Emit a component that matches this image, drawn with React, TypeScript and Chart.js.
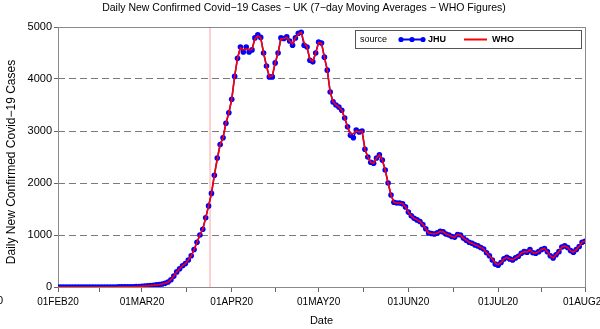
import React, { useEffect, useRef } from "react";
import { Chart, registerables } from "chart.js";
Chart.register(...registerables);

const chartTitle = "Daily New Confirmed Covid\u221219 Cases \u2212 UK (7\u2212day Moving Averages \u2212 WHO Figures)";
const yAxisTitle = "Daily New Confirmed Covid\u221219 Cases";
const xAxisTitle = "Date";
const tickDays = [0, 29, 60, 90, 121, 152, 182];
const tickLabels = ["01FEB20", "01MAR20", "01APR20", "01MAY20", "01JUN20", "01JUL20", "01AUG20"];
const minorTickDays = [14.5, 44.5, 75, 105.5, 136.5, 167];
const yTicks = [0, 1000, 2000, 3000, 4000, 5000];
const lockdownDay = 52.5;
const legendTitle = "source";
const seriesNames = ["JHU", "WHO"];

// day 0 = 01FEB20
const jhu = [
  0, 0, 0, 0, 0, 0, 1, 1, 1, 1,
  1, 1, 1, 1, 1, 1, 1, 1, 1, 1,
  1, 2, 2, 3, 4, 5, 6, 8, 10,
  14, 18, 22, 28, 34, 40, 48, 58, 70,
  95, 140, 210, 290, 350, 410, 450, 520, 600, 720,
  860, 1000, 1110, 1330, 1560, 1800, 2150, 2480, 2740, 2870,
  3150, 3350, 3610, 4050, 4400, 4615, 4520, 4615, 4520, 4560,
  4790, 4850, 4800, 4500, 4250, 4040, 4040, 4310, 4500, 4790,
  4780, 4810, 4730, 4650, 4790, 4880, 4900, 4650, 4615, 4360,
  4330, 4500, 4710, 4690, 4420, 4170, 3750, 3560, 3500, 3460,
  3400, 3250, 3080, 2920, 2870, 3020, 2980, 3000, 2650, 2500,
  2400, 2380, 2480, 2540, 2440, 2250, 2000, 1770, 1630, 1615,
  1615, 1600, 1540, 1440, 1370, 1320, 1290, 1260, 1200, 1120,
  1040, 1030, 1020, 1040, 1070, 1060, 1020, 1000, 970, 960,
  1010, 1000, 940, 900, 860, 840, 810, 790, 760, 730,
  660, 600, 520, 440, 420, 470, 540, 570, 540, 520,
  560, 590, 650, 680, 670, 720, 660, 650, 680, 720,
  740, 680, 600, 560, 620, 680, 770, 790, 760, 700,
  670, 720, 780, 860, 880,
];

const who = [
  0, 0, 0, 0, 0, 0, 1, 1, 1, 1,
  1, 1, 1, 1, 1, 1, 1, 1, 1, 1,
  1, 2, 2, 3, 4, 5, 6, 8, 10,
  14, 18, 22, 28, 34, 40, 48, 58, 70,
  95, 140, 210, 290, 350, 410, 450, 520, 600, 720,
  860, 1000, 1110, 1330, 1560, 1800, 2150, 2450, 2740, 2870,
  3150, 3350, 3610, 4050, 4400, 4600, 4560, 4580, 4560, 4570,
  4770, 4830, 4790, 4500, 4250, 4040, 4060, 4310, 4500, 4770,
  4780, 4800, 4730, 4680, 4790, 4860, 4900, 4700, 4615, 4380,
  4340, 4500, 4700, 4690, 4420, 4170, 3750, 3560, 3500, 3460,
  3400, 3250, 3080, 2940, 2950, 3000, 2980, 3000, 2650, 2500,
  2400, 2380, 2480, 2540, 2440, 2250, 2000, 1770, 1630, 1615,
  1615, 1600, 1540, 1440, 1370, 1320, 1290, 1260, 1200, 1120,
  1040, 1030, 1020, 1040, 1070, 1060, 1020, 1000, 970, 960,
  1010, 1000, 940, 900, 860, 840, 810, 790, 760, 730,
  660, 600, 540, 460, 430, 470, 540, 570, 540, 520,
  560, 590, 650, 680, 670, 720, 660, 650, 680, 720,
  740, 680, 600, 560, 620, 680, 770, 790, 760, 700,
  670, 720, 780, 860, 880,
];

const FONT = "'Liberation Sans', Arial, sans-serif";
const BLUE = "#0000ff";
const RED = "#ff0000";

const decorPlugin = {
  id: "decor",
  beforeDatasetsDraw(chart: any) {
    const { ctx, chartArea: a } = chart;
    ctx.save();
    ctx.strokeStyle = "#8a8a8a";
    ctx.lineWidth = 1;
    ctx.strokeRect(Math.round(a.left) + 0.5, Math.round(a.top) + 0.5, Math.round(a.right - a.left), Math.round(a.bottom - a.top));
    ctx.restore();
  },
  afterDraw(chart: any) {
    const { ctx, chartArea: a } = chart;
    ctx.save();
    ctx.fillStyle = "#000";
    ctx.textBaseline = "middle";
    // chart title
    ctx.font = `10.5px ${FONT}`;
    ctx.textAlign = "center";
    ctx.fillText(chartTitle, 304, 8);
    // x title
    ctx.font = `11px ${FONT}`;
    ctx.fillText(xAxisTitle, (a.left + a.right) / 2, 321);
    // y title
    ctx.save();
    ctx.translate(12, 162);
    ctx.rotate(-Math.PI / 2);
    ctx.font = `12px ${FONT}`;
    ctx.fillText(yAxisTitle, 0, 0);
    ctx.restore();
    // stray clipped label at left edge
    ctx.font = `11px ${FONT}`;
    ctx.textAlign = "right";
    ctx.fillText("0", 3, 301);

    // legend
    const lx = 355.5, ly = 30.5, lw = 226, lh = 18;
    ctx.fillStyle = "#fff";
    ctx.fillRect(lx, ly, lw, lh);
    ctx.strokeStyle = "#555";
    ctx.lineWidth = 1;
    ctx.strokeRect(lx, ly, lw, lh);
    const cy = ly + lh / 2;
    ctx.fillStyle = "#000";
    ctx.textAlign = "left";
    ctx.font = `9px ${FONT}`;
    ctx.fillText(legendTitle, 360, cy + 0.5);
    ctx.strokeStyle = BLUE;
    ctx.lineWidth = 2;
    ctx.beginPath();
    ctx.moveTo(401, cy);
    ctx.lineTo(423, cy);
    ctx.stroke();
    ctx.fillStyle = BLUE;
    [401, 412, 423].forEach((px) => {
      ctx.beginPath();
      ctx.arc(px, cy, 2.6, 0, Math.PI * 2);
      ctx.fill();
    });
    ctx.fillStyle = "#000";
    ctx.font = `bold 9px ${FONT}`;
    ctx.fillText(seriesNames[0], 428, cy + 0.5);
    ctx.strokeStyle = RED;
    ctx.lineWidth = 2;
    ctx.beginPath();
    ctx.moveTo(464, cy);
    ctx.lineTo(487, cy);
    ctx.stroke();
    ctx.fillText(seriesNames[1], 492, cy + 0.5);
    ctx.restore();
  },
};

export default function App() {
  const ref = useRef<HTMLCanvasElement | null>(null);
  useEffect(() => {
    document.body.style.margin = "0";
    const canvas = ref.current!;
    const chart = new Chart(canvas, {
      type: "line",
      data: {
        datasets: [
          {
            label: "lockdown",
            data: [
              { x: lockdownDay, y: yTicks[0] },
              { x: lockdownDay, y: yTicks[yTicks.length - 1] },
            ],
            borderColor: "rgba(255,0,0,0.38)",
            borderWidth: 1,
            pointRadius: 0,
            order: 3,
          },
          {
            label: seriesNames[0],
            data: jhu.map((v, i) => ({ x: i, y: v })),
            borderColor: BLUE,
            backgroundColor: BLUE,
            borderWidth: 1.5,
            pointRadius: 2.8,
            pointBorderWidth: 0,
            pointBackgroundColor: BLUE,
            order: 2,
          },
          {
            label: seriesNames[1],
            data: who.map((v, i) => ({ x: i, y: v })),
            borderColor: RED,
            borderWidth: 1.6,
            pointRadius: 0,
            order: 1,
          },
        ],
      },
      options: {
        responsive: false,
        animation: false,
        devicePixelRatio: 1,
        layout: { padding: { top: 27, right: 15, left: 0, bottom: 0 } },
        plugins: { legend: { display: false }, tooltip: { enabled: false }, title: { display: false } },
        scales: {
          x: {
            type: "linear",
            min: tickDays[0],
            max: tickDays[tickDays.length - 1],
            afterBuildTicks: (scale: any) => {
              scale.ticks = [...tickDays, ...minorTickDays].sort((a, b) => a - b).map((v) => ({ value: v }));
            },
            afterFit: (scale: any) => {
              scale.height = 42;
              scale.paddingLeft = 0;
              scale.paddingRight = 0;
            },
            ticks: {
              autoSkip: false,
              maxRotation: 0,
              minRotation: 0,
              padding: 4,
              color: "#000",
              font: { family: FONT, size: 10 },
              callback: (v: any) => {
                const i = tickDays.indexOf(Number(v));
                return i >= 0 ? tickLabels[i] : "";
              },
            },
            grid: { display: true, drawOnChartArea: false, drawTicks: true, tickLength: 5, tickColor: "#666" },
            border: { display: false },
          },
          y: {
            min: yTicks[0],
            max: yTicks[yTicks.length - 1],
            afterBuildTicks: (scale: any) => {
              scale.ticks = yTicks.map((v) => ({ value: v }));
            },
            afterFit: (scale: any) => {
              scale.width = 58;
              scale.paddingTop = 0;
              scale.paddingBottom = 0;
            },
            ticks: {
              padding: 2,
              color: "#000",
              font: { family: FONT, size: 11 },
              callback: (v: any) => String(v),
            },
            grid: {
              display: true,
              drawOnChartArea: true,
              drawTicks: true,
              tickLength: 4,
              tickColor: "#666",
              lineWidth: 1,
              color: (c: any) =>
                c.tick && (c.tick.value === yTicks[0] || c.tick.value === yTicks[yTicks.length - 1])
                  ? "rgba(0,0,0,0)"
                  : "#7a7a7a",
            },
            border: { display: false, dash: [7, 4] },
          },
        },
      },
      plugins: [decorPlugin],
    } as any);
    return () => chart.destroy();
  }, []);
  return (
    <div style={{ position: "fixed", left: 0, top: 0, width: 600, height: 329, background: "#fff" }}>
      <canvas ref={ref} width={600} height={329} style={{ width: 600, height: 329, display: "block" }} />
    </div>
  );
}
